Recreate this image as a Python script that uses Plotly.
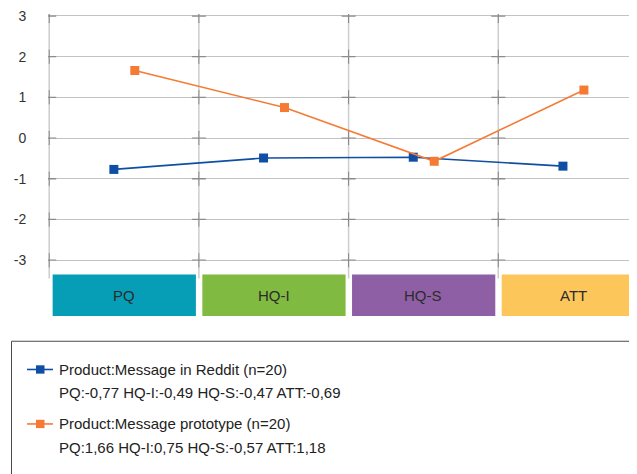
import plotly.graph_objects as go

# ---- data ----
categories = ["PQ", "HQ-I", "HQ-S", "ATT"]
category_colors = ["#059EB6", "#80BA41", "#8F5FA6", "#FDC65B"]
series_names = ["Product:Message in Reddit (n=20)", "Product:Message prototype (n=20)"]
reddit_values = [-0.77, -0.49, -0.47, -0.69]
prototype_values = [1.66, 0.75, -0.57, 1.18]
series_values = [reddit_values, prototype_values]
series_colors = ["#0E4FA3", "#F57B35"]
series_offsets = [-0.068, 0.072]
y_ticks = [-3, -2, -1, 0, 1, 2, 3]

FONT = "Liberation Sans, Arial, sans-serif"
OFF = 8  # page body margin
W, H = 637 - OFF, 474 - OFF
ML, MR, MT, MB = 48 - OFF, 0, 11 - OFF, 157
PW, PH = W - ML - MR, H - MT - MB
UNIT = 41.1
X_RANGE = [-0.008, PW / 150.0]
Y_TOP = 3 + 2.0 / UNIT
Y_RANGE = [Y_TOP - PH / UNIT, Y_TOP]


def px(x):
    return (x - OFF - ML) / PW


def py(y):
    return (H - MB - (y - OFF)) / PH


fig = go.Figure()

# intersection crosses on the grid (drawn first, below data)
gx, gy = [], []
for i in range(len(categories)):
    for t in y_ticks:
        gx.append(i)
        gy.append(t)
fig.add_trace(go.Scatter(x=gx, y=gy, mode="markers", hoverinfo="skip", showlegend=False,
                         marker=dict(symbol="square", size=13, color="white", line=dict(width=0))))
fig.add_trace(go.Scatter(x=gx, y=gy, mode="markers", hoverinfo="skip", showlegend=False,
                         marker=dict(symbol="cross-thin", size=10, color="#8C8C8C",
                                     line=dict(width=1.3, color="#8C8C8C"))))

# data series
for name, vals, col, off in zip(series_names, series_values, series_colors, series_offsets):
    fig.add_trace(go.Scatter(
        x=[i + 0.5 + off for i in range(len(categories))], y=vals,
        mode="lines+markers", name=name, showlegend=False,
        line=dict(color=col, width=1.6),
        marker=dict(symbol="square", size=9, color=col),
    ))

shapes = []
# vertical category separators
for i in range(len(categories)):
    shapes.append(dict(type="line", xref="x", yref="y", x0=i, x1=i, y0=3, y1=-3.45,
                       line=dict(color="#CDCDCD", width=1.5), layer="between"))
# category boxes
annotations = []
for i, (c, col) in enumerate(zip(categories, category_colors)):
    shapes.append(dict(type="rect", xref="x", yref="y", x0=i + 0.023, x1=i + 1 - 0.02,
                       y0=-3.35, y1=-4.37, fillcolor=col, line=dict(width=0), layer="below"))
    annotations.append(dict(x=i + 0.5, y=-3.86, xref="x", yref="y", text=c, showarrow=False,
                            font=dict(family=FONT, size=15, color="#2B2B2B")))

# legend box (manual)
shapes.append(dict(type="rect", xref="paper", yref="paper", x0=px(11.5), x1=px(660),
                   y0=py(341.5), y1=py(500), line=dict(color="#4A4A4A", width=1),
                   fillcolor="rgba(0,0,0,0)", layer="above"))
legend_rows = [370, 425]
for name, vals, col, yrow in zip(series_names, series_values, series_colors, legend_rows):
    shapes.append(dict(type="line", xref="paper", yref="paper", x0=px(27), x1=px(53),
                       y0=py(yrow), y1=py(yrow), line=dict(color=col, width=1.6)))
    shapes.append(dict(type="rect", xref="paper", yref="paper", x0=px(36), x1=px(44.5),
                       y0=py(yrow - 4.2), y1=py(yrow + 4.2), fillcolor=col, line=dict(width=0)))
    annotations.append(dict(x=px(57), y=py(yrow), xref="paper", yref="paper", text=name,
                            showarrow=False, xanchor="left", yanchor="middle",
                            font=dict(family=FONT, size=15, color="#222222")))
    detail = " ".join(f"{c}:{v:.2f}".replace(".", ",") for c, v in zip(categories, vals))
    annotations.append(dict(x=px(57), y=py(yrow + 23.5), xref="paper", yref="paper", text=detail,
                            showarrow=False, xanchor="left", yanchor="middle",
                            font=dict(family=FONT, size=15, color="#222222")))

fig.update_layout(
    width=W, height=H,
    margin=dict(l=ML, r=MR, t=MT, b=MB, pad=0),
    paper_bgcolor="white", plot_bgcolor="white",
    showlegend=False,
    shapes=shapes, annotations=annotations,
    xaxis=dict(range=X_RANGE, showgrid=False, zeroline=False, showticklabels=False,
               ticks="", showline=False, fixedrange=True),
    yaxis=dict(range=Y_RANGE, tickvals=y_ticks, ticktext=[str(t) for t in y_ticks],
               showgrid=True, gridcolor="#C2C2C2", gridwidth=1.2, zeroline=False,
               showline=False, ticks="outside", ticklen=18, tickcolor="rgba(0,0,0,0)",
               ticklabeloverflow="allow",
               tickfont=dict(family=FONT, size=14, color="#333333"), fixedrange=True),
)

fig.write_html("out.html")
